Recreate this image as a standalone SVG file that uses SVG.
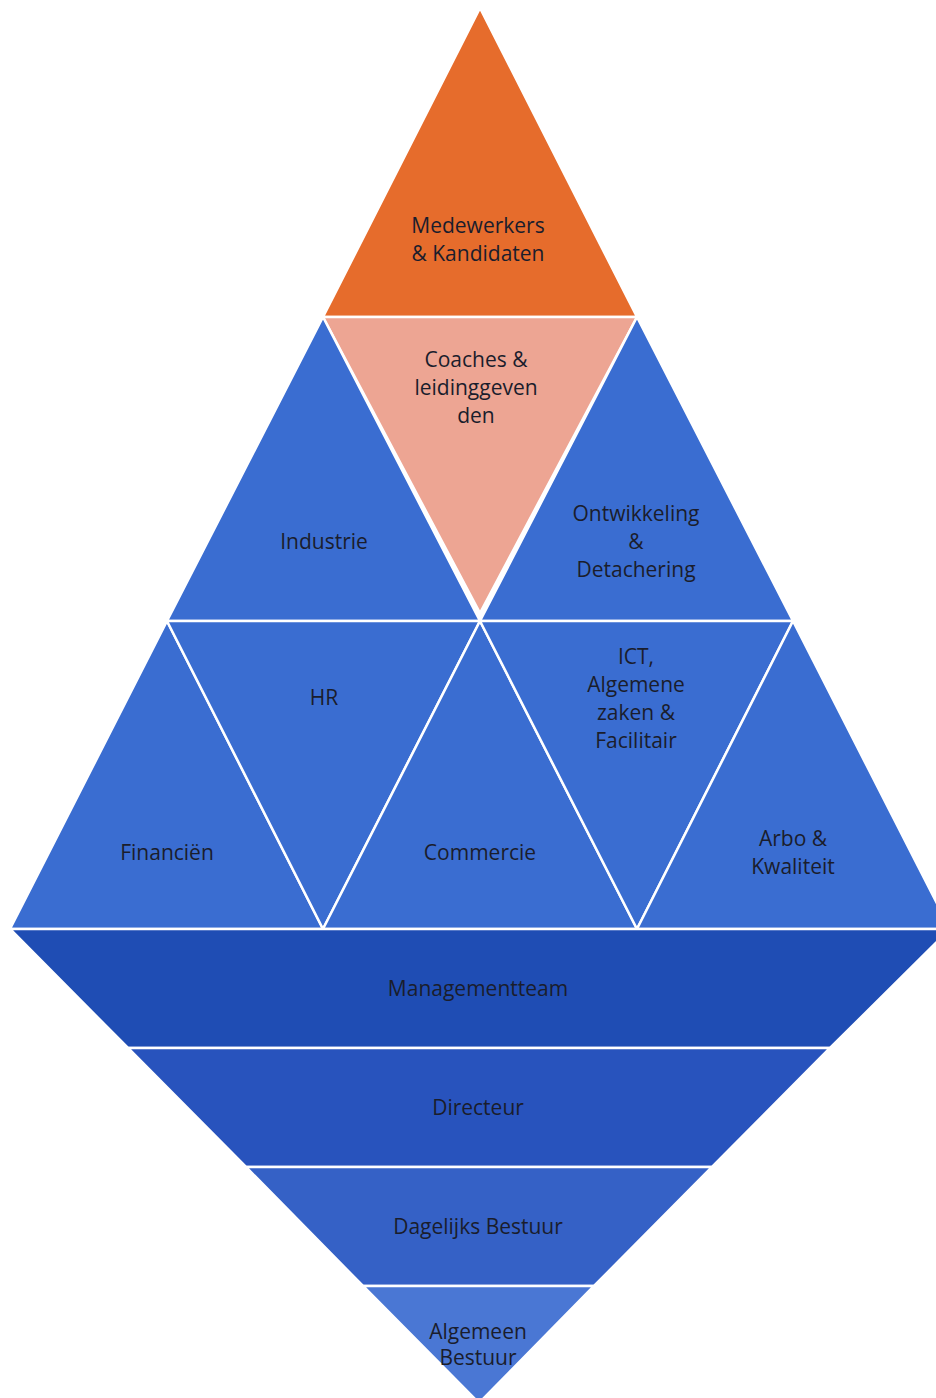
<svg xmlns="http://www.w3.org/2000/svg" width="936" height="1398" viewBox="0 0 936 1398">
<style>
.s{stroke:#ffffff;stroke-width:2.5;stroke-linejoin:miter}
.b{fill:#3a6dd1}
.t{font-family:"Open Sans","Liberation Sans",sans-serif;font-size:21px;fill:#1a1d2c;text-anchor:middle}
</style>
<rect width="936" height="1398" fill="#ffffff"/>
<g id="medewerkers"><polygon class="s" fill="#e66c2c" points="480,8 637,317 323,317"/>
<text class="t" x="478" y="233">Medewerkers</text><text class="t" x="478" y="261">&amp; Kandidaten</text></g>
<g id="coaches"><polygon class="s" fill="#eda593" points="323,317 637,317 480,613"/>
<text class="t" x="476" y="367">Coaches &amp;</text><text class="t" x="476" y="395">leidinggeven</text><text class="t" x="476" y="423">den</text></g>
<g id="industrie"><polygon class="s b" points="323,317 480,621 167,621"/>
<text class="t" x="324" y="549">Industrie</text></g>
<g id="ontwikkeling"><polygon class="s b" points="637,317 793,621 480,621"/>
<text class="t" x="636" y="521">Ontwikkeling</text><text class="t" x="636" y="549">&amp;</text><text class="t" x="636" y="577">Detachering</text></g>
<g id="financien"><polygon class="s b" points="167,621 323,929 10,929"/>
<text class="t" x="167" y="860">Financiën</text></g>
<g id="hr"><polygon class="s b" points="167,621 480,621 323,929"/>
<text class="t" x="324" y="705">HR</text></g>
<g id="commercie"><polygon class="s b" points="480,621 637,929 323,929"/>
<text class="t" x="480" y="860">Commercie</text></g>
<g id="ict"><polygon class="s b" points="480,621 793,621 637,929"/>
<text class="t" x="636" y="664">ICT,</text><text class="t" x="636" y="692">Algemene</text><text class="t" x="636" y="720">zaken &amp;</text><text class="t" x="636" y="748">Facilitair</text></g>
<g id="arbo"><polygon class="s b" points="793,621 950,929 637,929"/>
<text class="t" x="793" y="846">Arbo &amp;</text><text class="t" x="793" y="874">Kwaliteit</text></g>
<g id="managementteam"><polygon class="s" fill="#1f4db4" points="10,929 950,929 830,1048 128,1048"/>
<text class="t" x="478" y="996" fill="#0e1a40">Managementteam</text></g>
<g id="directeur"><polygon class="s" fill="#2853bd" points="128,1048 830,1048 712,1167 246,1167"/>
<text class="t" x="478" y="1115">Directeur</text></g>
<g id="dagelijks"><polygon class="s" fill="#3561c6" points="246,1167 712,1167 594,1286 363,1286"/>
<text class="t" x="478" y="1234">Dagelijks Bestuur</text></g>
<g id="algemeen"><polygon class="s" fill="#4a77d4" points="363,1286 594,1286 479,1403"/>
<text class="t" x="478" y="1339">Algemeen</text><text class="t" x="478" y="1365">Bestuur</text></g>
<g id="connectors"></g>
</svg>
